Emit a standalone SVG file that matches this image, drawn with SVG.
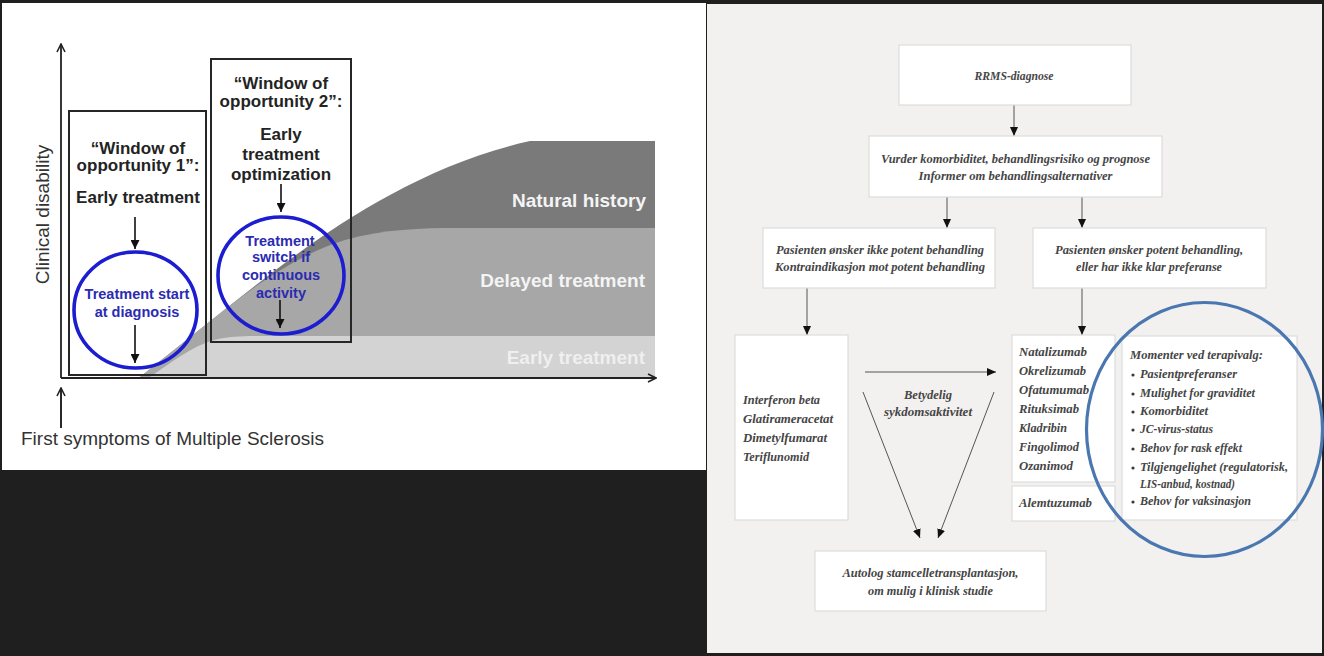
<svg xmlns="http://www.w3.org/2000/svg" width="1324" height="656" viewBox="0 0 1324 656">
<defs>
<style>
.lbl{font-family:"Liberation Sans",Arial,sans-serif;font-weight:bold;font-size:17px;fill:#232323;text-anchor:middle}
.blue{font-family:"Liberation Sans",Arial,sans-serif;font-weight:bold;font-size:14.5px;fill:#2b2bb2;text-anchor:middle}
.area{font-family:"Liberation Sans",Arial,sans-serif;font-weight:bold;font-size:19px;text-anchor:end}
.reg{font-family:"Liberation Sans",Arial,sans-serif;font-size:19px;fill:#333}
.frame{fill:none;stroke:#262626;stroke-width:2}
.ring{fill:none;stroke:#1c1cd0;stroke-width:3.6}
.blk{stroke:#111;stroke-width:1.6;fill:none}
.ft{font-family:"Liberation Serif","Times New Roman",serif;font-style:italic;font-weight:bold;font-size:13px;fill:#454545}
.mid{text-anchor:middle}
.box{fill:#ffffff;stroke:#dcdcdc;stroke-width:1.2}
.conn{stroke:#555;stroke-width:1;fill:none}
</style>
<marker id="ah" viewBox="0 0 9 8" refX="9" refY="4" markerWidth="9" markerHeight="8" markerUnits="userSpaceOnUse" orient="auto">
<path d="M0,0 L9,4 L0,8 z" fill="#111"/>
</marker>
<marker id="ahl" viewBox="0 0 9 9" refX="9" refY="4.5" markerWidth="9" markerHeight="9" markerUnits="userSpaceOnUse" orient="auto">
<path d="M0,0 L9,4.5 L0,9 z" fill="#111"/>
</marker>
<marker id="axh" viewBox="0 0 10 10" refX="9" refY="5" markerWidth="10" markerHeight="10" markerUnits="userSpaceOnUse" orient="auto">
<path d="M1,1 L9,5 L1,9" fill="none" stroke="#222" stroke-width="1.6"/>
</marker>
</defs>

<rect x="0" y="0" width="1324" height="656" fill="#1f1f1f"/>
<rect x="2" y="3" width="704" height="467" fill="#ffffff"/>
<rect x="707" y="4" width="615" height="649" fill="#f3f1ef"/>

<!-- Left chart -->
<g id="chart-areas">
<path d="M140,377 L228,307 C298,252 400,170 530,141 L655,141 L655,377 Z" fill="#7a7a7a"/>
<path d="M140,377 L228,307 C265,278 305,252 345,240 C385,229 420,228 460,228 L655,228 L655,377 Z" fill="#a7a7a7"/>
<path d="M150,377 C172,362 192,346 214,340 C230,336 245,336 265,336 L655,336 L655,377 Z" fill="#d3d3d3"/>
<text class="area" x="646" y="207" fill="#f4f4f4">Natural history</text>
<text class="area" x="645" y="287" fill="#f4f4f4">Delayed treatment</text>
<text class="area" x="645" y="364" fill="#efefef">Early treatment</text>
</g>

<g id="axes">
<line x1="61" y1="378" x2="61" y2="44" stroke="#222" stroke-width="1.8" marker-end="url(#axh)"/>
<line x1="61" y1="378" x2="656" y2="378" stroke="#222" stroke-width="1.8" marker-end="url(#axh)"/>
<text class="reg" x="0" y="0" font-size="18.5" transform="translate(48.5,214.5) rotate(-90)" text-anchor="middle">Clinical disability</text>
<line x1="61" y1="428" x2="61" y2="388" stroke="#111" stroke-width="1.8" marker-end="url(#axh)"/>
<text class="reg" x="21" y="445">First symptoms of Multiple Sclerosis</text>
</g>

<g id="window1">
<rect class="frame" x="69" y="111" width="137" height="264"/>
<text class="lbl" x="138" y="154">“Window of</text>
<text class="lbl" x="138" y="171">opportunity 1”:</text>
<text class="lbl" x="138" y="203">Early treatment</text>
<line class="blk" x1="135" y1="217" x2="135" y2="249" marker-end="url(#ahl)"/>
</g>

<g id="circle1">
<ellipse class="ring" cx="135.5" cy="310" rx="61.5" ry="58"/>
<text class="blue" x="137" y="298.5">Treatment start</text>
<text class="blue" x="137" y="316.5">at diagnosis</text>
<line class="blk" x1="135" y1="325" x2="135" y2="363" marker-end="url(#ahl)"/>
</g>

<g id="window2">
<rect class="frame" x="211" y="59" width="140" height="283"/>
<text class="lbl" x="281" y="89">“Window of</text>
<text class="lbl" x="281" y="107">opportunity 2”:</text>
<text class="lbl" x="281" y="140">Early</text>
<text class="lbl" x="281" y="160">treatment</text>
<text class="lbl" x="281" y="180">optimization</text>
<line class="blk" x1="281" y1="184" x2="281" y2="212" marker-end="url(#ahl)"/>
</g>

<g id="circle2">
<ellipse class="ring" cx="281" cy="275.5" rx="63" ry="58.5"/>
<text class="blue" x="280" y="245.5">Treatment</text>
<text class="blue" x="281" y="262">switch if</text>
<text class="blue" x="281" y="279.5">continuous</text>
<text class="blue" x="281" y="297.5">activity</text>
<line class="blk" x1="280" y1="300" x2="280" y2="328" marker-end="url(#ahl)"/>
</g>

<!-- Right flowchart -->
<g id="connectors">
<line class="conn" x1="1014" y1="105" x2="1014" y2="136" marker-end="url(#ah)"/>
<line class="conn" x1="947" y1="197" x2="947" y2="228" marker-end="url(#ah)"/>
<line class="conn" x1="1082" y1="197" x2="1082" y2="228" marker-end="url(#ah)"/>
<line class="conn" x1="807" y1="288" x2="807" y2="335" marker-end="url(#ah)"/>
<line class="conn" x1="1082" y1="288" x2="1082" y2="335" marker-end="url(#ah)"/>
<line class="conn" x1="865" y1="372" x2="996" y2="372" marker-end="url(#ah)"/>
<line class="conn" x1="863" y1="392" x2="920" y2="538" marker-end="url(#ah)"/>
<line class="conn" x1="994" y1="392" x2="938" y2="538" marker-end="url(#ah)"/>
<text class="ft mid" x="928" y="399" textLength="48" lengthAdjust="spacingAndGlyphs">Betydelig</text>
<text class="ft mid" x="928" y="416" textLength="88" lengthAdjust="spacingAndGlyphs">sykdomsaktivitet</text>
</g>

<g id="rrms">
<rect class="box" x="899" y="45" width="232" height="60"/>
<text class="ft mid" x="1014" y="80" textLength="79" lengthAdjust="spacingAndGlyphs">RRMS-diagnose</text>
</g>

<g id="vurder">
<rect class="box" x="869" y="136" width="293" height="61"/>
<text class="ft mid" x="1015.5" y="163" textLength="269" lengthAdjust="spacingAndGlyphs">Vurder komorbiditet, behandlingsrisiko og prognose</text>
<text class="ft mid" x="1015.5" y="180" textLength="194" lengthAdjust="spacingAndGlyphs">Informer om behandlingsalternativer</text>
</g>

<g id="ikke-potent">
<rect class="box" x="763" y="228" width="232" height="60"/>
<text class="ft mid" x="880" y="254" textLength="208" lengthAdjust="spacingAndGlyphs">Pasienten ønsker ikke potent behandling</text>
<text class="ft mid" x="880" y="271" textLength="210" lengthAdjust="spacingAndGlyphs">Kontraindikasjon mot potent behandling</text>
</g>

<g id="potent">
<rect class="box" x="1033" y="228" width="233" height="60"/>
<text class="ft mid" x="1149" y="254" textLength="188" lengthAdjust="spacingAndGlyphs">Pasienten ønsker potent behandling,</text>
<text class="ft mid" x="1149" y="271" textLength="146" lengthAdjust="spacingAndGlyphs">eller har ikke klar preferanse</text>
</g>

<g id="moderate">
<rect class="box" x="735" y="335" width="113" height="185"/>
<text class="ft" x="743" y="404" textLength="77" lengthAdjust="spacingAndGlyphs">Interferon beta</text>
<text class="ft" x="743" y="423" textLength="90" lengthAdjust="spacingAndGlyphs">Glatirameracetat</text>
<text class="ft" x="743" y="442" textLength="84" lengthAdjust="spacingAndGlyphs">Dimetylfumarat</text>
<text class="ft" x="743" y="461" textLength="66" lengthAdjust="spacingAndGlyphs">Teriflunomid</text>
</g>

<g id="high-efficacy">
<rect class="box" x="1012" y="335" width="103" height="147"/>
<text class="ft" x="1019" y="356" textLength="68" lengthAdjust="spacingAndGlyphs">Natalizumab</text>
<text class="ft" x="1019" y="375" textLength="67" lengthAdjust="spacingAndGlyphs">Okrelizumab</text>
<text class="ft" x="1019" y="394" textLength="70" lengthAdjust="spacingAndGlyphs">Ofatumumab</text>
<text class="ft" x="1019" y="413" textLength="60" lengthAdjust="spacingAndGlyphs">Rituksimab</text>
<text class="ft" x="1019" y="432" textLength="48" lengthAdjust="spacingAndGlyphs">Kladribin</text>
<text class="ft" x="1019" y="451" textLength="60" lengthAdjust="spacingAndGlyphs">Fingolimod</text>
<text class="ft" x="1019" y="470" textLength="54" lengthAdjust="spacingAndGlyphs">Ozanimod</text>
</g>

<g id="alemtuzumab">
<rect class="box" x="1012" y="486" width="103" height="35"/>
<text class="ft" x="1019" y="507" textLength="73" lengthAdjust="spacingAndGlyphs">Alemtuzumab</text>
</g>

<g id="momenter">
<rect class="box" x="1122" y="336" width="175" height="184"/>
<text class="ft" x="1130" y="359" textLength="133" lengthAdjust="spacingAndGlyphs">Momenter ved terapivalg:</text>
<g fill="#3a3a3a">
<circle cx="1133" cy="375" r="1.6"/>
<circle cx="1133" cy="394" r="1.6"/>
<circle cx="1133" cy="412" r="1.6"/>
<circle cx="1133" cy="430" r="1.6"/>
<circle cx="1133" cy="449" r="1.6"/>
<circle cx="1133" cy="468" r="1.6"/>
<circle cx="1133" cy="502" r="1.6"/>
</g>
<text class="ft" x="1140" y="378" textLength="97" lengthAdjust="spacingAndGlyphs">Pasientpreferanser</text>
<text class="ft" x="1140" y="397" textLength="115" lengthAdjust="spacingAndGlyphs">Mulighet for graviditet</text>
<text class="ft" x="1140" y="415" textLength="68" lengthAdjust="spacingAndGlyphs">Komorbiditet</text>
<text class="ft" x="1140" y="433" textLength="73" lengthAdjust="spacingAndGlyphs">JC-virus-status</text>
<text class="ft" x="1140" y="452" textLength="102" lengthAdjust="spacingAndGlyphs">Behov for rask effekt</text>
<text class="ft" x="1140" y="471" textLength="148" lengthAdjust="spacingAndGlyphs">Tilgjengelighet (regulatorisk,</text>
<text class="ft" x="1140" y="488" textLength="95" lengthAdjust="spacingAndGlyphs">LIS-anbud, kostnad)</text>
<text class="ft" x="1140" y="505" textLength="111" lengthAdjust="spacingAndGlyphs">Behov for vaksinasjon</text>
</g>

<g id="autolog">
<rect class="box" x="815" y="551" width="231" height="60"/>
<text class="ft mid" x="930.5" y="577" textLength="176" lengthAdjust="spacingAndGlyphs">Autolog stamcelletransplantasjon,</text>
<text class="ft mid" x="930.5" y="595" textLength="125" lengthAdjust="spacingAndGlyphs">om mulig i klinisk studie</text>
</g>

<g id="highlight-ring">
<ellipse cx="1204.5" cy="429.5" rx="118" ry="127" fill="none" stroke="#4a77b0" stroke-width="3.2"/>
</g>
</svg>
